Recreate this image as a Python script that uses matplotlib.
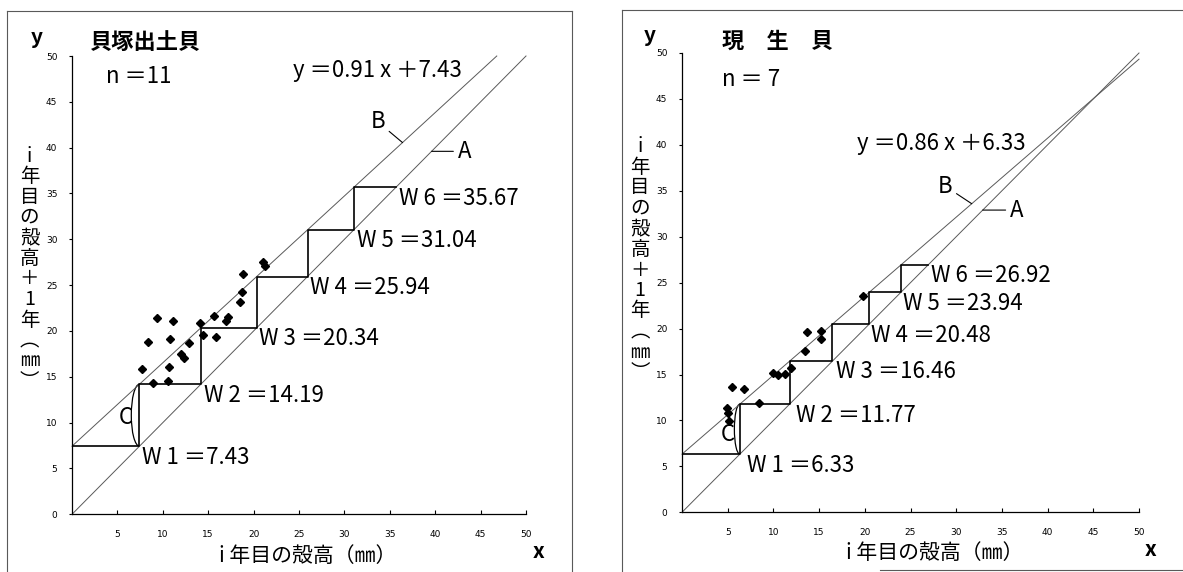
#!/usr/bin/env python3
"""
plot.py - growth staircase (Walford plot) for midden shells vs living shells
"""

import numpy as np
import matplotlib
matplotlib.use("Agg")
import matplotlib.pyplot as plt
from matplotlib.patches import Arc
from matplotlib.lines import Line2D

plt.rcParams["font.family"] = ["Noto Sans CJK JP", "DejaVu Sans"]

# ---- data ---------------------------------------------------------------
# left: shells from the shell midden (n = 11)
midden_x = [9.39, 11.16, 8.34, 10.79, 12.92, 12.00, 12.30, 7.68, 10.72, 8.95,
            10.54, 14.10, 14.39, 15.83, 15.64, 16.93, 17.21, 18.50, 18.76,
            18.87, 21.07, 21.26]
midden_y = [21.37, 21.08, 18.82, 19.08, 18.65, 17.48, 17.01, 15.81, 16.03,
            14.29, 14.54, 20.83, 19.55, 19.33, 21.62, 21.08, 21.48, 23.12,
            24.27, 26.17, 27.55, 27.08]
midden_w = [7.43, 14.19, 20.34, 25.94, 31.04, 35.67]
midden_slope, midden_icpt = 0.91, 7.43

# right: living shells (n = 7)
living_x = [4.89, 5.00, 5.18, 5.44, 6.82, 8.46, 9.92, 10.54, 11.27, 11.93,
            13.46, 13.71, 15.21, 15.21, 19.80]
living_y = [11.32, 10.77, 9.97, 13.67, 13.38, 11.86, 15.13, 14.94, 15.05,
            15.73, 17.58, 19.65, 19.76, 18.86, 23.60]
living_w = [6.33, 11.77, 16.46, 20.48, 23.94, 26.92]
living_slope, living_icpt = 0.86, 6.33

AX_MAX = 50
tick_vals = np.arange(0, AX_MAX + 1, 5)

ylabel_chars = ["i", "年", "目", "の", "殻", "高", "＋", "1", "年", "︵", "㎜", "︶"]
xlabel_text = "i 年目の殻高（㎜）"

W_PX, H_PX = 1183, 572


def fpos(x, y):
    """pixel position (from top-left) -> figure fraction"""
    return x / W_PX, 1 - y / H_PX


def rect_px(x0, y0, x1, y1):
    return [x0 / W_PX, 1 - y1 / H_PX, (x1 - x0) / W_PX, (y1 - y0) / H_PX]


def draw_panel(ax, xs, ys, w, slope, icpt, eq_pos, b_lab, b_x, a_lab, a_x,
               c_pos, c_bulge, w_dx):
    line_kw = dict(color="0.35", lw=0.7, clip_on=False)
    lim = np.array([0, AX_MAX])
    ax.plot(lim, lim, **line_kw)                       # A: y = x
    b_end = min(AX_MAX, (AX_MAX - icpt) / slope)
    bx = np.array([0, b_end])
    ax.plot(bx, slope * bx + icpt, **line_kw)          # B: regression

    steps_x = np.r_[0, w]
    steps_y = np.r_[w, w[-1]]
    ax.plot(steps_x, steps_y, drawstyle="steps-post", color="black", lw=1.2)

    ax.plot(xs, ys, "D", ms=3.6, color="black", mec="black")

    for i, v in enumerate(w):
        ax.annotate(f"W {i + 1} ＝{v:.2f}", xy=(v, v), xytext=(w_dx[i], -12.5),
                    textcoords="offset points", ha="left", va="baseline",
                    fontsize=16)

    sign = "＋" if icpt >= 0 else "－"
    ax.text(eq_pos[0], eq_pos[1], f"y ＝{slope:.2f} x {sign}{icpt:.2f}",
            ha="left", va="center", fontsize=16)

    arrow = dict(arrowstyle="-", color="black", lw=0.8, shrinkA=1, shrinkB=0)
    ax.annotate("B", xy=(b_x, slope * b_x + icpt), xytext=b_lab,
                ha="center", va="center", fontsize=16, arrowprops=arrow)
    ax.annotate("A", xy=(a_x, a_x), xytext=a_lab,
                ha="center", va="center", fontsize=16, arrowprops=arrow)

    ax.add_patch(Arc((w[0], (w[0] + w[1]) / 2), 2 * c_bulge, w[1] - w[0],
                     theta1=90, theta2=270, color="black", lw=0.9))
    ax.text(c_pos[0], c_pos[1], "C", ha="center", va="center", fontsize=16)

    ax.set_xlim(0, AX_MAX)
    ax.set_ylim(0, AX_MAX)
    ax.set_yticks(tick_vals)
    ax.set_xticks(tick_vals[1:])
    ax.set_facecolor("none")
    for side in ("top", "right"):
        ax.spines[side].set_visible(False)
    for side in ("left", "bottom"):
        ax.spines[side].set_linewidth(0.9)
    ax.tick_params(axis="y", direction="out", length=2.5, width=0.8, pad=8,
                   labelsize=6.5)
    ax.tick_params(axis="x", direction="in", length=3, width=0.8, pad=11,
                   labelsize=6.5)
    for lab in ax.get_xticklabels() + ax.get_yticklabels():
        lab.set_family("DejaVu Sans")


fig = plt.figure(figsize=(W_PX / 100, H_PX / 100), dpi=100)

ax_l = fig.add_axes(rect_px(72, 56, 526, 514.3))
ax_r = fig.add_axes(rect_px(682, 53, 1139, 512.3))

draw_panel(ax_l, midden_x, midden_y, midden_w, midden_slope, midden_icpt,
           eq_pos=(24.3, 48.45), b_lab=(33.7, 42.8), b_x=36.4,
           a_lab=(43.2, 39.6), a_x=39.6, c_pos=(5.95, 10.56), c_bulge=0.9,
           w_dx=[2, 2, 2, 2, 2, 2])
draw_panel(ax_r, living_x, living_y, living_w, living_slope, living_icpt,
           eq_pos=(19.1, 40.2), b_lab=(28.8, 35.5), b_x=31.7,
           a_lab=(36.6, 32.9), a_x=32.9, c_pos=(5.03, 8.52), c_bulge=0.6,
           w_dx=[5, 4.5, 2.5, 1.6, 1.6, 2])

# panel titles and n
fig.text(*fpos(90, 42), "貝塚出土貝", fontsize=16, ha="left", va="center",
         fontweight="bold")
fig.text(*fpos(106, 76), "n ＝11", fontsize=16, ha="left", va="center")
fig.text(*fpos(722, 41), "現　生　貝", fontsize=16, ha="left", va="center",
         fontweight="bold")
fig.text(*fpos(722, 80), "n ＝ 7", fontsize=16, ha="left", va="center")

# axis letters
for px, py in [(37, 37), (650, 35)]:
    fig.text(*fpos(px, py), "y", fontsize=15, ha="center", va="center",
             fontweight="bold")
for px, py in [(538.5, 551.5), (1151, 549)]:
    fig.text(*fpos(px, py), "x", fontsize=15, ha="center", va="center",
             fontweight="bold")

# x axis titles
fig.text(*fpos(308, 556), xlabel_text, fontsize=15, ha="center", va="center")
fig.text(*fpos(935, 553), xlabel_text, fontsize=15, ha="center", va="center")

# vertical y axis titles, one glyph per row
for col_x, top_y in [(29.5, 156), (640, 147)]:
    for i, ch in enumerate(ylabel_chars):
        fig.text(*fpos(col_x, top_y + i * 20.5), ch, fontsize=14,
                 ha="center", va="center")

# panel frames
frame_kw = dict(color="0.35", lw=0.8, transform=fig.transFigure)
frames = [
    [(7, 11), (572, 11)], [(7, 11), (7, 580)], [(572, 11), (572, 580)],
    [(622, 10), (1190, 10)], [(622, 10), (622, 580)], [(880, 570), (1190, 570)],
]
for (xa, ya), (xb, yb) in frames:
    p0, p1 = fpos(xa, ya), fpos(xb, yb)
    fig.add_artist(Line2D([p0[0], p1[0]], [p0[1], p1[1]], **frame_kw))

fig.savefig("out.png", dpi=100)
